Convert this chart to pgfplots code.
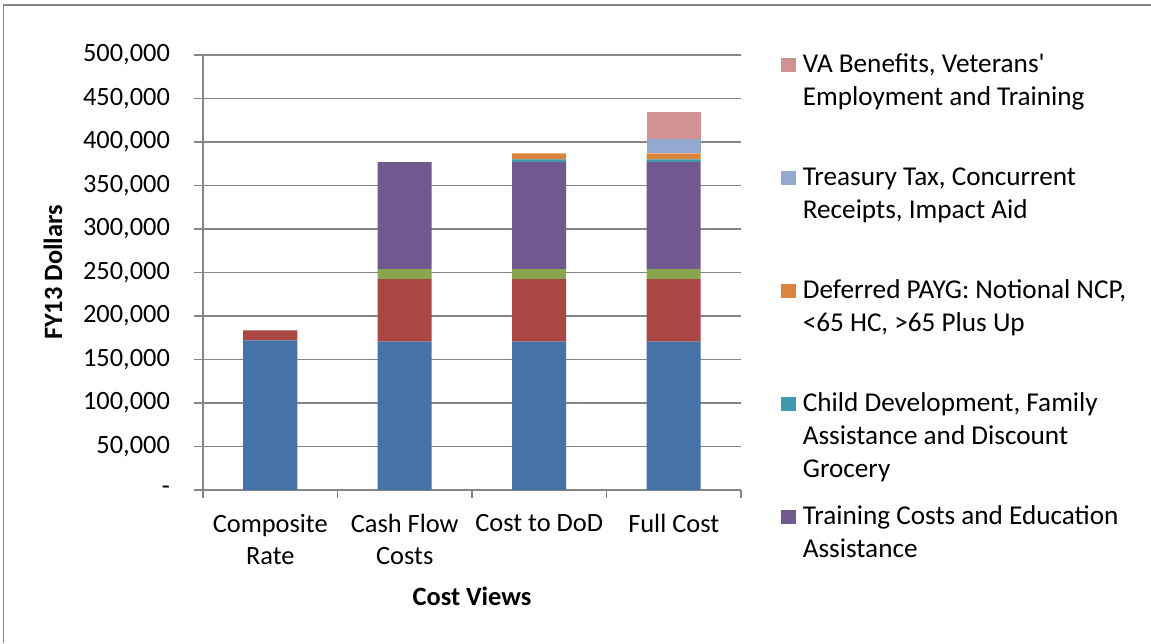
\documentclass[border=0pt]{standalone}
\usepackage{fontspec}
\setmainfont{Carlito}
\usepackage{pgfplots}
\pgfplotsset{compat=1.18}
\definecolor{gridgray}{RGB}{134,134,134}
\definecolor{cBlue}{RGB}{69,114,167}
\definecolor{cRed}{RGB}{170,70,67}
\definecolor{cGreen}{RGB}{137,165,78}
\definecolor{cPurple}{RGB}{113,88,143}
\definecolor{cTeal}{RGB}{65,152,175}
\definecolor{cOrange}{RGB}{219,132,61}
\definecolor{cLBlue}{RGB}{147,169,207}
\definecolor{cPink}{RGB}{209,147,146}
\newcommand{\lgd}[1]{\parbox[t]{200pt}{\raggedright #1}}
\newcommand{\fs}{\fontsize{13.2}{16}\selectfont}
\newcommand{\fl}{\fontsize{13.6}{16.5}\selectfont}
\begin{document}
\begin{tikzpicture}
\useasboundingbox (0,0) rectangle (575.5pt,321.5pt);
\draw[color=gridgray, line width=0.75pt] (1.75pt,0) -- (1.75pt,319pt) -- (575.5pt,319pt);
\begin{axis}[
  at={(101.5pt,76.5pt)}, anchor=south west,
  scale only axis, width=269pt, height=217.5pt,
  ybar stacked, bar width=27pt,
  xmin=-0.5, xmax=3.5, ymin=0, ymax=500000,
  axis lines=left,
  axis line style={-, draw=gridgray, line width=0.75pt},
  ymajorgrids, grid style={draw=gridgray, line width=0.75pt},
  tick align=outside, major tick length=4.5pt, minor tick length=4pt,
  tick style={draw=gridgray, line width=0.75pt},
  xtick={0,1,2,3}, major x tick style={draw=none},
  minor xtick={-0.5,0.5,1.5,2.5,3.5},
  minor x tick style={draw=gridgray, line width=0.75pt},
  xticklabels={{Composite\\Rate},{Cash Flow\\Costs},{Cost to DoD},{Full Cost}},
  xticklabel style={align=center, font=\fs, yshift=-4pt},
  ytick={0,50000,100000,150000,200000,250000,300000,350000,400000,450000,500000},
  yticklabels={-,{50,000},{100,000},{150,000},{200,000},{250,000},{300,000},{350,000},{400,000},{450,000},{500,000}},
  scaled y ticks=false,
  yticklabel style={font=\fs, xshift=-8.5pt},
  xlabel={Cost Views},
  xlabel style={at={(axis description cs:0.5,-0.2437)}, anchor=center, font=\fs\bfseries},
  ylabel={FY13 Dollars},
  ylabel style={at={(axis description cs:-0.279,0.5)}, anchor=center, font=\fs\bfseries},
  every axis plot/.append style={draw=none,
    legend image code/.code={\fill[##1] (0pt,0pt) rectangle (7.25pt,7.25pt);}},
  reverse legend,
  legend style={at={(1.0743,1.0023)}, anchor=north west, draw=none, fill=none,
    inner sep=0pt, row sep=0pt, font=\fl,
    cells={anchor=base west},
    nodes={inner xsep=3.5pt, inner ysep=0pt, text height=9pt, text depth=47.5pt}},
]
\addplot[fill=cBlue, forget plot] coordinates {(0,172000) (1,170500) (2,170500) (3,170500)};
\addplot[fill=cRed, forget plot] coordinates {(0,11500) (1,72000) (2,72000) (3,72000)};
\addplot[fill=cGreen, forget plot] coordinates {(0,0) (1,11500) (2,11500) (3,11500)};
\addplot[fill=cPurple] coordinates {(0,0) (1,123000) (2,123000) (3,123000)};
\addlegendentry{\lgd{Training Costs and Education\\Assistance}}
\addplot[fill=cTeal] coordinates {(0,0) (1,0) (2,3000) (3,3000)};
\addlegendentry{\lgd{Child Development, Family\\Assistance and Discount\\Grocery}}
\addplot[fill=cOrange] coordinates {(0,0) (1,0) (2,7000) (3,7000)};
\addlegendentry{\lgd{Deferred PAYG: Notional NCP,\\<65 HC, >65 Plus Up}}
\addplot[fill=cLBlue] coordinates {(0,0) (1,0) (2,0) (3,16000)};
\addlegendentry{\lgd{Treasury Tax, Concurrent\\Receipts, Impact Aid}}
\addplot[fill=cPink] coordinates {(0,0) (1,0) (2,0) (3,32000)};
\addlegendentry{\lgd{VA Benefits, Veterans\textquotesingle\\Employment and Training}}
\end{axis}
\end{tikzpicture}
\end{document}
